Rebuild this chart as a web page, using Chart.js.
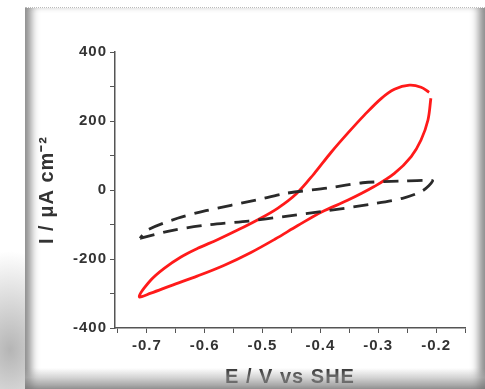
<!DOCTYPE html>
<html>
<head>
<meta charset="utf-8">
<script src="https://cdn.jsdelivr.net/npm/chart.js@4/dist/chart.umd.min.js"></script>
<style>
    html, body { margin: 0; padding: 0; background: #fff; }
    #wrap { position: relative; width: 485px; height: 389px; overflow: hidden; }
    #shade {
        position: absolute; left: -60px; top: 250px; width: 140px; height: 200px;
        background: radial-gradient(ellipse at center, rgba(120,120,120,0.55), rgba(255,255,255,0) 70%);
    }
    #frame {
        position: absolute; left: 25px; top: 7px; width: 460px; height: 382px;
        background: #fff; border-top: 1px dotted #bbb;
        box-shadow: inset 11px 0 8px -5px #8a8a8a, inset -11px 0 8px -5px #8a8a8a;
    }
    #bottom {
        position: absolute; left: 25px; top: 368px; width: 460px; height: 21px;
        background: linear-gradient(to bottom, rgba(255,255,255,0), rgba(170,170,170,0.5) 45%, rgba(120,120,120,0.8));
        z-index: 2;
    }
    canvas { position: absolute; left: 0; top: 0; z-index: 1; }
</style>
</head>
<body>
<div id="wrap">
    <div id="shade"></div>
    <div id="frame"></div>
    <canvas id="cvChart" width="485" height="389"></canvas>
    <div id="bottom"></div>
</div>
<script>
// Red CV loop (E in V vs SHE, I in uA cm-2)
const redE = [-0.209, -0.214, -0.226, -0.243, -0.272, -0.307, -0.353, -0.397, -0.439, -0.478, -0.520, -0.566, -0.612, -0.658, -0.693, -0.713,
              -0.693, -0.670, -0.641, -0.612, -0.578, -0.543, -0.508, -0.474, -0.441, -0.411, -0.382, -0.353, -0.324, -0.295, -0.272, -0.246, -0.226, -0.212];
const redI = [266, 203, 145, 97, 48, 10, -30, -63, -103, -142, -181, -218, -249, -277, -299, -309,
              -261, -227, -194, -169, -144, -116, -86, -53, -10, 47, 108, 164, 217, 265, 292, 304, 298, 283];

// Black dashed loop
const blackE = [-0.712, -0.653, -0.593, -0.524, -0.463, -0.387, -0.312, -0.258, -0.223, -0.206,
                -0.215, -0.255, -0.327, -0.385, -0.457, -0.511, -0.598, -0.647, -0.699, -0.712];
const blackI = [-140, -116, -101, -90, -77, -60, -41, -24, -2, 26,
                28, 26, 21, 6, -9, -29, -60, -82, -116, -140];

const xMajor = [-0.7, -0.6, -0.5, -0.4, -0.3, -0.2];
const yMajor = [-400, -200, 0, 200, 400];

function toPoints(xs, ys) {
    return xs.map((x, i) => ({ x: x, y: ys[i] }));
}

const axisColor = '#555';
const labelFont = { family: 'Liberation Sans, Arial, sans-serif', size: 15, weight: 'bold' };
const titleFont = { family: 'Liberation Sans, Arial, sans-serif', size: 20, weight: 'bold' };

// the scanned figure has wide lettering
const spacingPlugin = {
    id: 'spacing',
    beforeDraw(chart) { chart.ctx.letterSpacing = '1px'; }
};

new Chart(document.getElementById('cvChart').getContext('2d'), {
    type: 'scatter',
    data: {
        datasets: [
            {
                data: toPoints(blackE, blackI),
                showLine: true,
                borderColor: '#2a2a2a',
                borderWidth: 2.8,
                borderDash: [15, 9],
                pointRadius: 0,
                tension: 0.3
            },
            {
                data: toPoints(redE, redI),
                showLine: true,
                borderColor: '#ff1a1a',
                borderWidth: 2.8,
                pointRadius: 0,
                tension: 0.35
            }
        ]
    },
    plugins: [spacingPlugin],
    options: {
        responsive: false,
        animation: false,
        layout: { padding: { left: 34, right: 20, top: 52, bottom: 0 } },
        plugins: { legend: { display: false }, tooltip: { enabled: false } },
        scales: {
            x: {
                type: 'linear',
                min: -0.755,
                max: -0.15,
                afterFit: function(scale) { scale.height = 61; },
                border: { display: true, color: axisColor, width: 1.5 },
                grid: { drawOnChartArea: false, drawTicks: true, tickLength: 5, tickColor: axisColor },
                ticks: {
                    stepSize: 0.05,
                    includeBounds: false,
                    maxRotation: 0,
                    autoSkip: false,
                    padding: 4,
                    color: '#333',
                    font: labelFont,
                    callback: function(v) {
                        const hit = xMajor.find(m => Math.abs(m - v) < 1e-6);
                        return hit !== undefined ? hit.toFixed(1) : '';
                    }
                },
                title: { display: true, text: 'E / V vs SHE', color: '#333', font: titleFont, padding: { top: 0, bottom: 0 } }
            },
            y: {
                type: 'linear',
                min: -400,
                max: 400,
                afterFit: function(scale) { scale.width = 81; },
                border: { display: true, color: axisColor, width: 1.5 },
                grid: { drawOnChartArea: false, drawTicks: true, tickLength: 5, tickColor: axisColor },
                ticks: {
                    stepSize: 100,
                    autoSkip: false,
                    padding: 3,
                    color: '#333',
                    font: labelFont,
                    callback: function(v) {
                        return yMajor.includes(v) ? String(v) : '';
                    }
                },
                title: { display: true, text: 'I / \u03bcA cm\u207b\u00b2', color: '#333', font: titleFont, padding: { top: 1, bottom: 0 } }
            }
        }
    }
});
</script>
</body>
</html>
